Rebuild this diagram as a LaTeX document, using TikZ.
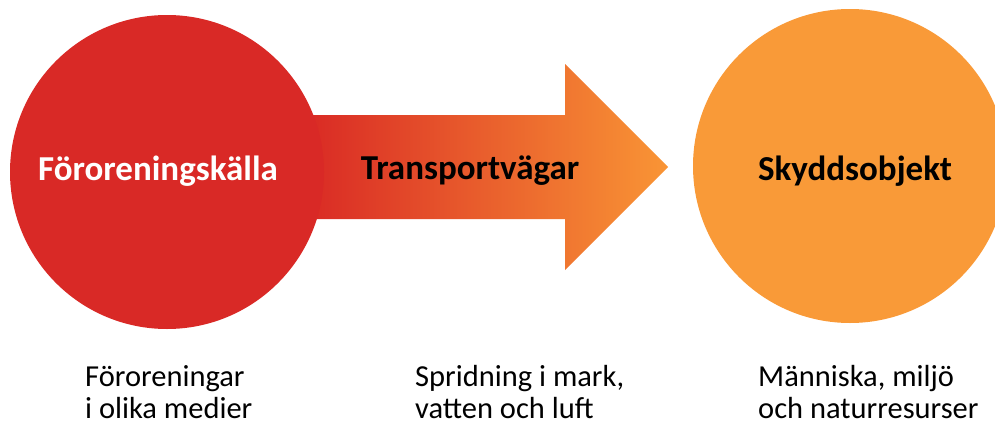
\documentclass[tikz,border=0pt]{standalone}
\usepackage{fontspec}
\setmainfont{Carlito}
\definecolor{kallared}{HTML}{D92926}
\definecolor{skyddorange}{HTML}{F99A38}
\definecolor{vagred}{HTML}{DA2C25}
\definecolor{vagorange}{HTML}{F99535}

\begin{document}
\begin{tikzpicture}[x=1pt, y=-1pt,
  circ/.style={circle, inner sep=0pt, minimum size=314pt},
  rubrik/.style={font=\fontsize{35}{40}\selectfont\bfseries, anchor=base, inner sep=0pt},
  notis/.style={font=\fontsize{30.5}{31.6}\selectfont, align=left, anchor=base west, inner sep=0pt}]
  \useasboundingbox (0,0) rectangle (995,423);
  \clip (0,0) rectangle (995,423);
  % arrow between the circles
  \shade[left color=vagred, right color=vagorange]
    (313,115) -- (565,115) -- (565,64) -- (668,167) -- (565,270) -- (565,219) -- (313,219) -- cycle;
  \node[circ, fill=kallared] (kalla) at (167,172) {};
  \node[circ, fill=skyddorange] (skydd) at (850,166) {};
  \node[rubrik, text=white] (kallatext) at (158,180) {Föroreningskälla};
  \node[rubrik] (vagtext) at (470,179) {Transportvägar};
  \node[rubrik] (skyddtext) at (855,180) {Skyddsobjekt};
  % notes below, base is the last line
  \node[notis] (kallanotis) at (85,418) {Föroreningar\\i olika medier};
  \node[notis] (vagnotis) at (415,418) {Spridning i mark,\\vatten och luft};
  \node[notis] (skyddnotis) at (758,418) {Människa, miljö\\och naturresurser};
\end{tikzpicture}
\end{document}
